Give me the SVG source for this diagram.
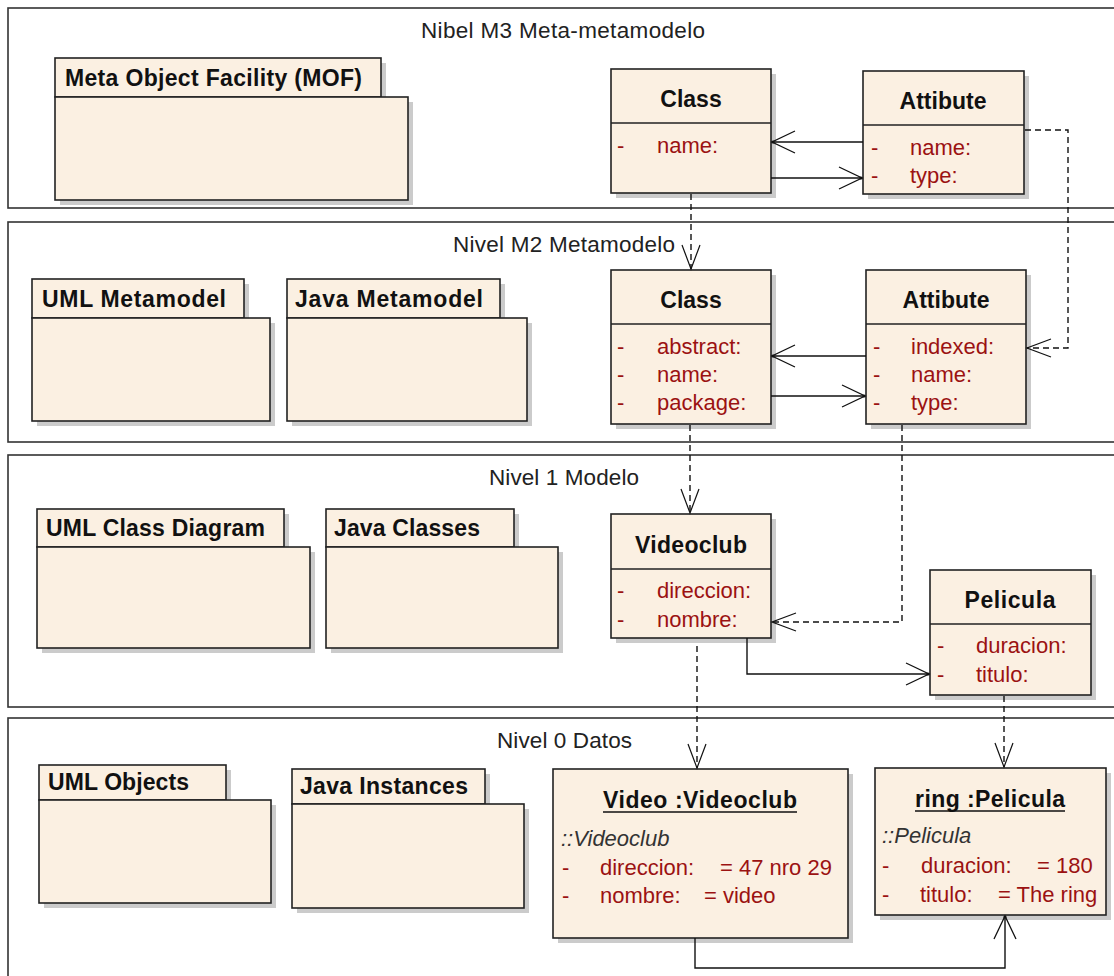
<svg xmlns="http://www.w3.org/2000/svg" width="1114" height="976" viewBox="0 0 1114 976">
  <style>
    .band { fill: #ffffff; stroke: #333333; stroke-width: 1.6; }
    .band-title { font-family: "Liberation Sans", Arial, sans-serif; font-size: 22.5px; fill: #222222; }
    .box { fill: #FBF0E2; stroke: #222222; stroke-width: 1.6; }
    .shadow { fill: #cbcbcb; }
    .div { stroke: #222222; stroke-width: 1.6; }
    .name { font-family: "Liberation Sans", Arial, sans-serif; font-size: 23px; font-weight: bold; fill: #111111; }
    .attr { font-family: "Liberation Sans", Arial, sans-serif; font-size: 22px; fill: #9B1212; }
    .cls { font-family: "Liberation Sans", Arial, sans-serif; font-size: 22px; font-style: italic; fill: #333333; }
    .assoc { fill: none; stroke: #111111; stroke-width: 1.4; }
    .dep { fill: none; stroke: #111111; stroke-width: 1.4; stroke-dasharray: 6 4; }
  </style>
  <defs>
    <marker id="open" markerUnits="userSpaceOnUse" viewBox="0 0 28 26" refX="25" refY="13" markerWidth="28" markerHeight="26" orient="auto">
      <path d="M2,2 L25,13 L2,24" fill="none" stroke="#111111" stroke-width="1.3"/>
      <circle cx="24" cy="13" r="1.6" fill="#111111"/>
    </marker>
    <marker id="dep" markerUnits="userSpaceOnUse" viewBox="0 0 28 22" refX="26" refY="11" markerWidth="28" markerHeight="22" orient="auto">
      <path d="M2,2 L26,11 L2,20" fill="none" stroke="#111111" stroke-width="1.2"/>
    </marker>
  </defs>

  <!-- level frames -->
  <g id="level-m3">
    <rect class="band" x="8" y="8" width="1120" height="200"/>
    <text class="band-title" x="421" y="38" textLength="284">Nibel M3 Meta-metamodelo</text>
  </g>
  <g id="level-m2">
    <rect class="band" x="8" y="222" width="1120" height="220"/>
    <text class="band-title" x="453" y="252" textLength="222">Nivel M2 Metamodelo</text>
  </g>
  <g id="level-1">
    <rect class="band" x="8" y="455" width="1120" height="252"/>
    <text class="band-title" x="489" y="485" textLength="150">Nivel 1 Modelo</text>
  </g>
  <g id="level-0">
    <rect class="band" x="8" y="718" width="1120" height="280"/>
    <text class="band-title" x="497" y="748" textLength="135">Nivel 0 Datos</text>
  </g>

  <!-- packages -->
  <g id="pkg-mof">
    <rect class="shadow" x="60" y="63" width="326" height="39"/>
    <rect class="shadow" x="60" y="102" width="353" height="103"/>
    <rect class="box" x="55" y="58" width="326" height="39"/>
    <rect class="box" x="55" y="97" width="353" height="103"/>
    <text class="name" x="65" y="86" textLength="297">Meta Object Facility (MOF)</text>
  </g>
  <g id="pkg-uml-metamodel">
    <rect class="shadow" x="37" y="284" width="212" height="39"/>
    <rect class="shadow" x="37" y="323" width="238" height="103"/>
    <rect class="box" x="32" y="279" width="212" height="39"/>
    <rect class="box" x="32" y="318" width="238" height="103"/>
    <text class="name" x="42" y="307" textLength="184">UML Metamodel</text>
  </g>
  <g id="pkg-java-metamodel">
    <rect class="shadow" x="292" y="284" width="213" height="39"/>
    <rect class="shadow" x="292" y="323" width="240" height="103"/>
    <rect class="box" x="287" y="279" width="213" height="39"/>
    <rect class="box" x="287" y="318" width="240" height="103"/>
    <text class="name" x="295" y="307" textLength="188">Java Metamodel</text>
  </g>
  <g id="pkg-uml-class-diagram">
    <rect class="shadow" x="42" y="514" width="247" height="38"/>
    <rect class="shadow" x="42" y="552" width="273" height="101"/>
    <rect class="box" x="37" y="509" width="247" height="38"/>
    <rect class="box" x="37" y="547" width="273" height="101"/>
    <text class="name" x="46" y="536" textLength="219">UML Class Diagram</text>
  </g>
  <g id="pkg-java-classes">
    <rect class="shadow" x="331" y="514" width="188" height="38"/>
    <rect class="shadow" x="331" y="552" width="232" height="101"/>
    <rect class="box" x="326" y="509" width="188" height="38"/>
    <rect class="box" x="326" y="547" width="232" height="101"/>
    <text class="name" x="334" y="536" textLength="146">Java Classes</text>
  </g>
  <g id="pkg-uml-objects">
    <rect class="shadow" x="44" y="770" width="187" height="35"/>
    <rect class="shadow" x="44" y="805" width="232" height="103"/>
    <rect class="box" x="39" y="765" width="187" height="35"/>
    <rect class="box" x="39" y="800" width="232" height="103"/>
    <text class="name" x="48" y="790" textLength="141">UML Objects</text>
  </g>
  <g id="pkg-java-instances">
    <rect class="shadow" x="297" y="774" width="193" height="35"/>
    <rect class="shadow" x="297" y="809" width="232" height="104"/>
    <rect class="box" x="292" y="769" width="193" height="35"/>
    <rect class="box" x="292" y="804" width="232" height="104"/>
    <text class="name" x="300" y="794" textLength="168">Java Instances</text>
  </g>

  <!-- M3 classes -->
  <g id="m3-class">
    <rect class="shadow" x="616" y="74" width="160" height="124"/>
    <rect class="box" x="611" y="69" width="160" height="124"/>
    <line class="div" x1="611" y1="123" x2="771" y2="123"/>
    <text class="name" x="691" y="107" text-anchor="middle">Class</text>
    <text class="attr" x="617" y="153">-</text>
    <text class="attr" x="657" y="153">name:</text>
  </g>
  <g id="m3-attibute">
    <rect class="shadow" x="868" y="76" width="161" height="123"/>
    <rect class="box" x="863" y="71" width="161" height="123"/>
    <line class="div" x1="863" y1="125" x2="1024" y2="125"/>
    <text class="name" x="943" y="109" text-anchor="middle" textLength="87">Attibute</text>
    <text class="attr" x="871" y="155">-</text>
    <text class="attr" x="910" y="155">name:</text>
    <text class="attr" x="871" y="183">-</text>
    <text class="attr" x="910" y="183">type:</text>
  </g>

  <!-- M2 classes -->
  <g id="m2-class">
    <rect class="shadow" x="616" y="275" width="160" height="154"/>
    <rect class="box" x="611" y="270" width="160" height="154"/>
    <line class="div" x1="611" y1="324" x2="771" y2="324"/>
    <text class="name" x="691" y="308" text-anchor="middle">Class</text>
    <text class="attr" x="617" y="354">-</text>
    <text class="attr" x="657" y="354">abstract:</text>
    <text class="attr" x="617" y="382">-</text>
    <text class="attr" x="657" y="382">name:</text>
    <text class="attr" x="617" y="410">-</text>
    <text class="attr" x="657" y="410">package:</text>
  </g>
  <g id="m2-attibute">
    <rect class="shadow" x="871" y="275" width="160" height="154"/>
    <rect class="box" x="866" y="270" width="160" height="154"/>
    <line class="div" x1="866" y1="324" x2="1026" y2="324"/>
    <text class="name" x="946" y="308" text-anchor="middle" textLength="87">Attibute</text>
    <text class="attr" x="873" y="354">-</text>
    <text class="attr" x="911" y="354">indexed:</text>
    <text class="attr" x="873" y="382">-</text>
    <text class="attr" x="911" y="382">name:</text>
    <text class="attr" x="873" y="410">-</text>
    <text class="attr" x="911" y="410">type:</text>
  </g>

  <!-- model classes -->
  <g id="videoclub">
    <rect class="shadow" x="616" y="519" width="160" height="124"/>
    <rect class="box" x="611" y="514" width="160" height="124"/>
    <line class="div" x1="611" y1="569" x2="771" y2="569"/>
    <text class="name" x="691" y="553" text-anchor="middle" textLength="112">Videoclub</text>
    <text class="attr" x="617" y="598">-</text>
    <text class="attr" x="657" y="598">direccion:</text>
    <text class="attr" x="617" y="627">-</text>
    <text class="attr" x="657" y="627">nombre:</text>
  </g>
  <g id="pelicula">
    <rect class="shadow" x="935" y="575" width="161" height="125"/>
    <rect class="box" x="930" y="570" width="161" height="125"/>
    <line class="div" x1="930" y1="624" x2="1091" y2="624"/>
    <text class="name" x="1010" y="608" text-anchor="middle" textLength="91">Pelicula</text>
    <text class="attr" x="937" y="653">-</text>
    <text class="attr" x="976" y="653">duracion:</text>
    <text class="attr" x="937" y="682">-</text>
    <text class="attr" x="976" y="682">titulo:</text>
  </g>

  <!-- data objects -->
  <g id="video-obj">
    <rect class="shadow" x="558" y="774" width="295" height="169"/>
    <rect class="box" x="553" y="769" width="295" height="169"/>
    <text class="name" x="700" y="808" text-anchor="middle" textLength="194">Video :Videoclub</text>
    <line x1="603" y1="812" x2="797" y2="812" stroke="#111111" stroke-width="1.6"/>
    <text class="cls" x="561" y="846">::Videoclub</text>
    <text class="attr" x="562" y="875">-</text>
    <text class="attr" x="600" y="875">direccion:</text>
    <text class="attr" x="720" y="875">= 47 nro 29</text>
    <text class="attr" x="562" y="903">-</text>
    <text class="attr" x="600" y="903">nombre:</text>
    <text class="attr" x="704" y="903">= video</text>
  </g>
  <g id="ring-obj">
    <rect class="shadow" x="880" y="773" width="231" height="147"/>
    <rect class="box" x="875" y="768" width="231" height="147"/>
    <text class="name" x="990" y="807" text-anchor="middle" textLength="150">ring :Pelicula</text>
    <line x1="915" y1="811" x2="1065" y2="811" stroke="#111111" stroke-width="1.6"/>
    <text class="cls" x="882" y="843">::Pelicula</text>
    <text class="attr" x="882" y="873">-</text>
    <text class="attr" x="921" y="873">duracion:</text>
    <text class="attr" x="1037" y="873">= 180</text>
    <text class="attr" x="882" y="902">-</text>
    <text class="attr" x="920" y="902">titulo:</text>
    <text class="attr" x="998" y="902">= The ring</text>
  </g>

  <!-- connectors -->
  <g id="connectors">
    <path class="assoc" d="M863,142 L772,142" marker-end="url(#open)"/>
    <path class="assoc" d="M771,178 L862,178" marker-end="url(#open)"/>
    <path class="assoc" d="M866,356 L772,356" marker-end="url(#open)"/>
    <path class="assoc" d="M771,396 L865,396" marker-end="url(#open)"/>
    <path class="assoc" d="M747,638 L747,674 L929,674" marker-end="url(#open)"/>
    <path class="assoc" d="M695,938 L695,968 L1005,968 L1005,916" marker-end="url(#open)"/>
    <path class="dep" d="M691,194 L691,269" marker-end="url(#dep)"/>
    <path class="dep" d="M1025,130 L1068,130 L1068,348 L1027,348" marker-end="url(#dep)"/>
    <path class="dep" d="M690,425 L690,513" marker-end="url(#dep)"/>
    <path class="dep" d="M902,425 L902,622 L772,622" marker-end="url(#dep)"/>
    <path class="dep" d="M697,646 L697,768" marker-end="url(#dep)"/>
    <path class="dep" d="M1004,696 L1004,767" marker-end="url(#dep)"/>
  </g>
</svg>
